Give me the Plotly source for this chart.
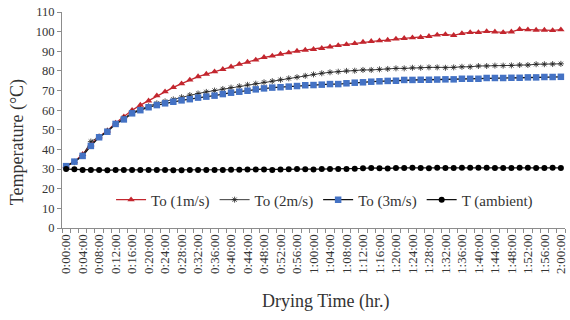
import plotly.graph_objects as go

# 2-minute readings from 0:00:00 to 2:00:00
times = [f"{m // 60}:{m % 60:02d}:00" for m in range(0, 121, 2)]

to_1ms = [31.5, 33.8, 37.5, 42.5, 46.5, 49.5, 53.5, 56.7, 60.0, 62.6,
          64.8, 67.4, 69.4, 71.6, 73.5, 75.4, 77.1, 78.4, 79.6, 80.8,
          82.1, 83.4, 84.5, 85.6, 86.9, 87.6, 88.6, 89.3, 90.1, 90.6,
          91.0, 91.5, 92.3, 93.0, 93.5, 94.0, 94.7, 95.1, 95.4, 95.7,
          96.3, 96.6, 96.9, 97.1, 97.6, 98.3, 98.6, 98.1, 99.1, 99.6,
          99.6, 100.1, 99.9, 99.6, 99.9, 101.2, 101.0, 100.8, 100.8, 100.6,
          101.0]

to_2ms = [31.5, 33.5, 37.0, 44.0, 46.5, 49.5, 53.0, 56.0, 58.8, 60.5,
          62.0, 63.5, 64.5, 65.5, 66.6, 67.7, 68.5, 69.3, 70.0, 70.8,
          71.5, 72.2, 72.9, 73.5, 74.2, 74.8, 75.5, 76.2, 76.8, 77.5,
          78.2, 78.8, 79.3, 79.6, 80.0, 80.1, 80.5, 80.5, 80.8, 81.0,
          81.3, 81.3, 81.6, 81.6, 81.8, 81.8, 81.6, 81.8, 82.1, 82.1,
          82.5, 82.5, 82.7, 82.7, 82.8, 83.0, 83.0, 83.4, 83.4, 83.5,
          83.6]

to_3ms = [31.5, 33.8, 36.7, 41.8, 46.2, 49.0, 53.0, 55.3, 58.4, 60.0,
          61.5, 62.6, 63.5, 64.3, 65.0, 65.6, 66.4, 66.9, 67.4, 68.2,
          68.9, 69.4, 69.9, 70.6, 71.1, 71.5, 71.7, 72.0, 72.3, 72.7,
          72.8, 73.0, 73.3, 73.3, 73.7, 74.0, 74.2, 74.5, 74.7, 74.9,
          75.0, 75.4, 75.4, 75.5, 75.5, 75.6, 75.7, 75.7, 76.0, 76.0,
          76.0, 76.4, 76.4, 76.4, 76.5, 76.5, 76.7, 76.7, 76.9, 76.9,
          77.0]

t_ambient = [30.0, 29.9, 29.6, 29.6, 29.6, 29.4, 29.6, 29.6, 29.6, 29.6,
             29.6, 29.5, 29.5, 29.4, 29.4, 29.5, 29.6, 29.6, 29.5, 29.6,
             29.7, 29.7, 29.8, 29.8, 29.8, 29.6, 29.8, 29.9, 30.0, 29.9,
             29.8, 30.0, 30.1, 30.1, 30.1, 30.2, 30.4, 30.6, 30.4, 30.3,
             30.6, 30.6, 30.7, 30.6, 30.4, 30.7, 30.6, 30.6, 30.7, 30.7,
             30.7, 30.7, 30.6, 30.5, 30.6, 30.7, 30.7, 30.5, 30.6, 30.7,
             30.6]

y_ticks = list(range(0, 111, 10))
label_every = 2  # every 4 minutes

FONT = "Liberation Serif, Times New Roman, serif"
RED = "#C3262E"
BLUE = "#4472C4"
AX = "#8C8C8C"

idx = list(range(len(times)))

fig = go.Figure()
fig.add_trace(go.Scatter(
    x=idx, y=to_1ms, name="To (1m/s)", mode="lines+markers",
    line=dict(color=RED, width=1.3),
    marker=dict(symbol="triangle-up", size=6.5, color=RED)))
fig.add_trace(go.Scatter(
    x=idx, y=to_2ms, name="To (2m/s)", mode="lines+markers",
    line=dict(color="#222222", width=0.9),
    marker=dict(symbol="asterisk-open", size=5, line=dict(color="#555555", width=0.8))))
fig.add_trace(go.Scatter(
    x=idx, y=to_3ms, name="To (3m/s)", mode="lines+markers",
    line=dict(color="#111111", width=1.3),
    marker=dict(symbol="square", size=6.5, color=BLUE)))
fig.add_trace(go.Scatter(
    x=idx, y=t_ambient, name="T (ambient)", mode="lines+markers",
    line=dict(color="#111111", width=1.3),
    marker=dict(symbol="circle", size=6, color="#000000")))

fig.update_layout(
    width=570, height=320,
    margin=dict(l=62, r=2, t=12, b=92),
    paper_bgcolor="white", plot_bgcolor="white",
    font=dict(family=FONT, color="#333333"),
    showlegend=True,
    legend=dict(orientation="h", x=0.522, y=0.13, xanchor="center", yanchor="middle",
                font=dict(family=FONT, size=15, color="#333333"),
                bgcolor="rgba(0,0,0,0)", itemwidth=30, tracegroupgap=0),
    xaxis=dict(
        range=[-0.5, len(times) - 0.5],
        tickmode="array",
        tickvals=idx[::label_every],
        ticktext=times[::label_every],
        tickangle=-90,
        ticklabeloverflow="allow",
        tickfont=dict(family=FONT, size=13, color="#333333"),
        ticks="", showgrid=False, zeroline=False,
        showline=True, linecolor=AX, linewidth=1,
        minor=dict(tickmode="array", tickvals=[i - 0.5 for i in range(len(times) + 1)],
                   ticks="outside", ticklen=4, tickcolor=AX, showgrid=False),
    ),
    yaxis=dict(
        range=[0, 110], tickmode="array", tickvals=y_ticks,
        tickfont=dict(family=FONT, size=12.5, color="#333333"),
        ticks="outside", ticklen=4, tickcolor=AX,
        showgrid=False, zeroline=False,
        showline=True, linecolor=AX, linewidth=1,
    ),
    annotations=[
        dict(text="Temperature (°C)", xref="paper", yref="paper",
             x=-0.089, y=0.398, xanchor="center", yanchor="middle",
             textangle=-90, showarrow=False,
             font=dict(family=FONT, size=18, color="#333333")),
        dict(text="Drying Time (hr.)", xref="paper", yref="paper",
             x=0.524, y=-0.338, xanchor="center", yanchor="middle",
             showarrow=False,
             font=dict(family=FONT, size=18, color="#333333")),
    ],
)

fig.write_html("out.html")
